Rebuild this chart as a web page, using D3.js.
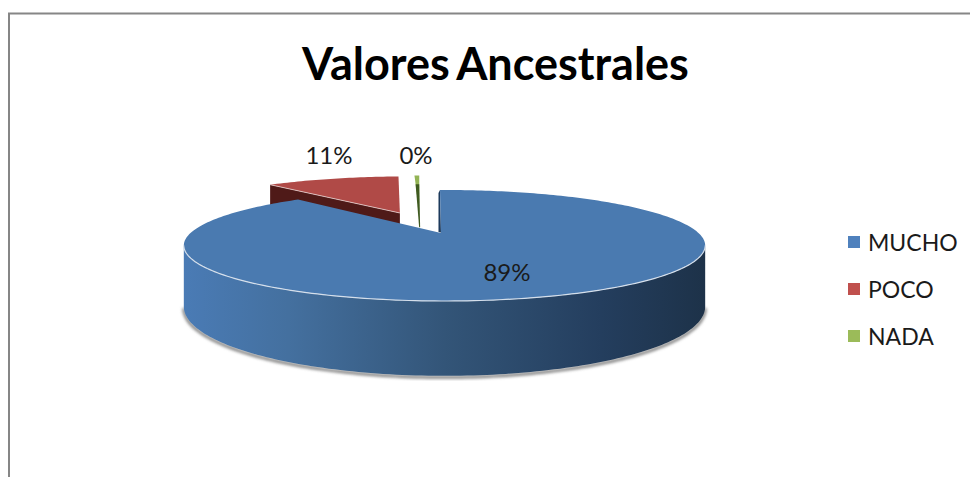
<!DOCTYPE html>
<html>
<head>
<meta charset="utf-8">
<script src="https://cdn.jsdelivr.net/npm/d3@7"></script>
<style>
	html, body { margin: 0; padding: 0; background: #fff; overflow: hidden; }
	text { font-family: Lato, "Open Sans", sans-serif; fill: #1a1a1a; }
</style>
</head>
<body>
<script>
var chartTitle = "Valores Ancestrales";
var categories = ["MUCHO", "POCO", "NADA"];
var values = [88.6, 11, 0.4];
var swatchColors = ["#4f81bd", "#c0504d", "#9bbb59"];
var topColors = ["#4a7ab0", "#b04a47", "#93b455"];
var wallColors = ["#3a6495", "#4f1a18", "#3f5a20"];

var width = 970,
	height = 477;

// disc is projected with a simple perspective
var originX = 444.5,
	originY = 233,
	scaleU = 254,
	scaleV = 52.7,
	persp = 0.225,
	depth = 58,
	startRot = -0.0217;

// how far each slice is pulled away from the big one, in disc units
var explodeU = [0, -0.192, -0.11];
var explodeV = [0, -0.415, -0.45];
var blueApexU = -0.0138;

function project(i, r, angle) {
	var u = r * Math.sin(angle) + explodeU[i];
	var v = -r * Math.cos(angle) + explodeV[i];
	var d = 1 - persp * v;
	return {
		x: originX + scaleU * u / d,
		y: originY + scaleV * v / d,
		drop: depth / d
	};
}

var line = d3.line()
	.x(function (p) { return p.x; })
	.y(function (p) { return p.y; });

function rim(i, a0, a1) {
	var n = Math.max(2, Math.ceil(Math.abs(a1 - a0) / 0.02));
	return d3.range(n + 1).map(function (k) {
		return project(i, 1, a0 + (a1 - a0) * k / n);
	});
}

function lowered(points) {
	return points.map(function (p) { return { x: p.x, y: p.y + p.drop }; });
}

var twoPi = 2 * Math.PI;

// slices run clockwise from just before twelve o'clock
var slices = d3.pie().sort(null).startAngle(startRot).endAngle(twoPi + startRot)(values);

var svg = d3.select("body").append("svg")
	.attr("width", width)
	.attr("height", height);

var defs = svg.append("defs");

var wallGrad = defs.append("linearGradient")
	.attr("id", "wallGrad")
	.attr("gradientUnits", "userSpaceOnUse")
	.attr("x1", 184).attr("x2", 705).attr("y1", 0).attr("y2", 0);
wallGrad.selectAll("stop")
	.data([[0, "#4a7bb5"], [0.2, "#44709f"], [0.5, "#335578"], [0.8, "#243e5e"], [1, "#1d3249"]])
	.enter().append("stop")
	.attr("offset", function (d) { return d[0]; })
	.attr("stop-color", function (d) { return d[1]; });

defs.append("filter")
	.attr("id", "soft")
	.attr("x", "-5%").attr("y", "-5%").attr("width", "110%").attr("height", "110%")
	.append("feGaussianBlur")
	.attr("stdDeviation", 1.6);

// chart frame, open on the right and at the bottom
svg.append("path")
	.attr("d", "M9,477V13.5H970")
	.attr("fill", "none")
	.attr("stroke", "#868686")
	.attr("stroke-width", 2);

svg.append("text")
	.attr("x", 495.5)
	.attr("y", 80)
	.attr("text-anchor", "middle")
	.attr("font-size", 45)
	.attr("font-weight", 700)
	.style("fill", "#000")
	.style("word-spacing", "-3px")
	.text(chartTitle);

var blue = slices[0], red = slices[1], green = slices[2];

// big slice side wall, front part only
var frontA0 = Math.acos(-persp),
	frontA1 = twoPi - frontA0;
var front = rim(0, frontA0, frontA1);
var wallPath = front.concat(lowered(front).reverse());

// soft shadow under the base
svg.append("path")
	.attr("d", line(lowered(front).map(function (p) { return { x: p.x, y: p.y + 1.5 }; })))
	.attr("fill", "none")
	.attr("stroke", "#7f7f7f")
	.attr("stroke-width", 3)
	.attr("filter", "url(#soft)");

// red slice
var redRim = rim(1, red.startAngle, red.endAngle);
var redApex = project(1, 0, 0);
var redTip = redRim[0];
svg.append("path")
	.attr("d", line([redTip, redApex, { x: redApex.x, y: redApex.y + redApex.drop },
		{ x: redTip.x, y: redTip.y + redTip.drop }]) + "Z")
	.attr("fill", wallColors[1]);
svg.append("path")
	.attr("d", line(redRim.concat([redApex])) + "Z")
	.attr("fill", topColors[1]);
svg.append("path")
	.attr("d", line([redTip, redApex]))
	.attr("fill", "none")
	.attr("stroke", "#e6d0cf")
	.attr("stroke-width", 0.8);

// green sliver, mostly its dark wall shows
var greenRim = rim(2, green.startAngle, green.endAngle);
var greenApex = project(2, 0, 0);
svg.append("path")
	.attr("d", line([{ x: greenApex.x - 4, y: greenApex.y + greenApex.drop * 0.27 },
		{ x: greenApex.x + 7, y: greenApex.y + greenApex.drop * 0.27 }]))
	.attr("stroke", "#bdbdbd")
	.attr("stroke-width", 6)
	.attr("opacity", 0.7)
	.attr("filter", "url(#soft)");
svg.append("path")
	.attr("d", line(greenRim.concat([greenApex])) + "Z")
	.attr("fill", topColors[2]);
var greenStep = project(2, 0.72, green.startAngle);
var greenStepR = project(2, 0.72, green.endAngle);
svg.append("path")
	.attr("d", line([greenStep, greenStepR, { x: greenApex.x + 1, y: greenApex.y + greenApex.drop * 0.3 },
		{ x: greenApex.x, y: greenApex.y + greenApex.drop * 0.3 }]) + "Z")
	.attr("fill", wallColors[2]);

// blue slice
svg.append("path")
	.attr("d", line(wallPath) + "Z")
	.attr("fill", "url(#wallGrad)");

var blueApex = project(0, 0, 0);
blueApex.x += scaleU * blueApexU;
var blueStart = project(0, 1, blue.startAngle);
svg.append("path")
	.attr("d", line([{ x: blueStart.x - 1.5, y: blueStart.y + 3 }, blueStart, blueApex,
		{ x: blueApex.x + 2, y: blueApex.y }, { x: blueApex.x - 2.5, y: blueApex.y - 1 }]) + "Z")
	.attr("fill", "#1d3a5c");

var blueRim = rim(0, blue.startAngle, blue.endAngle);
svg.append("path")
	.attr("d", line(blueRim.concat([blueApex])) + "Z")
	.attr("fill", topColors[0]);

svg.append("path")
	.attr("d", line(front))
	.attr("fill", "none")
	.attr("stroke", "#d5dfeb")
	.attr("stroke-width", 1.2);

// percent labels
var labelX = [507, 329, 416];
var labelY = [281, 164, 164];
svg.selectAll("text.pct")
	.data(slices)
	.enter().append("text")
	.attr("class", "pct")
	.attr("x", function (d, i) { return labelX[i]; })
	.attr("y", function (d, i) { return labelY[i]; })
	.attr("text-anchor", "middle")
	.attr("font-size", 24)
	.text(function (d) { return Math.round(d.value) + "%"; });

// legend
var legendY = d3.scalePoint().domain(categories).range([242, 336]);
var legend = svg.selectAll("g.legend")
	.data(categories)
	.enter().append("g")
	.attr("class", "legend")
	.attr("transform", function (d) { return "translate(848," + legendY(d) + ")"; });
legend.append("rect")
	.attr("y", -6)
	.attr("width", 12)
	.attr("height", 12)
	.attr("fill", function (d, i) { return swatchColors[i]; });
legend.append("text")
	.attr("x", 20)
	.attr("y", 8.5)
	.attr("font-size", 23)
	.text(function (d) { return d; });
</script>
</body>
</html>
